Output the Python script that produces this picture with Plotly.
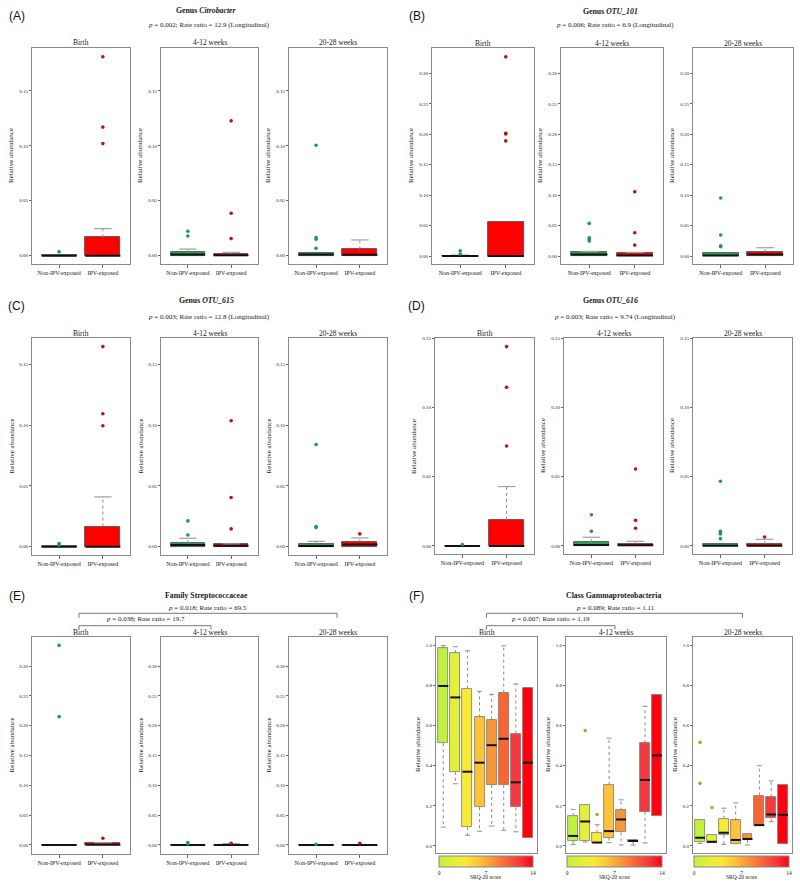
import plotly.graph_objects as go

W, H = 800, 888

# ---------------- data ----------------
groups = ["Non-IPV-exposed", "IPV-exposed"]
timepoints = ["Birth", "4-12 weeks", "20-28 weeks"]
group_colors = ["#25a455", "#ff0000"]
outlier_colors = ["#1c9a55", "#b3141b"]

# Panel A - Genus Citrobacter  [timepoint][group]
A_q1 = [[0, 0], [0, 0], [0, 0]]
A_median = [[0.0, 0.0], [0.001, 0.0003], [0.001, 0.0009]]
A_q3 = [[0.0005, 0.0167], [0.003, 0.0015], [0.0027, 0.0058]]
A_upper = [[0.0005, 0.0246], [0.006, 0.003], [0.0027, 0.0143]]
A_outliers = [[[0.0036], [0.181, 0.117, 0.102]],
              [[0.0222, 0.0179], [0.1227, 0.0386, 0.0155]],
              [[0.1005, 0.0164, 0.0149, 0.0067], []]]

# Panel B - Genus OTU_101
B_q1 = [[0, 0], [0, 0], [0, 0]]
B_median = [[0.0, 0.0], [0.0027, 0.001], [0.001, 0.0027]]
B_q3 = [[0.0008, 0.0564], [0.0066, 0.0044], [0.0044, 0.006]]
B_upper = [[0.0016, 0.0564], [0.0077, 0.006], [0.0044, 0.0137]]
B_outliers = [[[0.0088, 0.0033], [0.327, 0.2015, 0.2004, 0.189]],
              [[0.0536, 0.030, 0.0274, 0.0246], [0.1057, 0.0383, 0.018]],
              [[0.0953, 0.0345, 0.017, 0.0153], []]]

# Panel C - Genus OTU_615
C_q1 = [[0, 0], [0, 0], [0, 0]]
C_median = [[0.0, 0.0], [0.0014, 0.0008], [0.0006, 0.0017]]
C_q3 = [[0.0005, 0.0165], [0.0028, 0.0019], [0.0022, 0.0039]]
C_upper = [[0.0005, 0.041], [0.0069, 0.0022], [0.0044, 0.0072]]
C_outliers = [[[0.0025, 0.0014], [0.1649, 0.1096, 0.0996]],
              [[0.0212, 0.0096], [0.1038, 0.0405, 0.0146]],
              [[0.0842, 0.0165, 0.0157], [0.0105]]]

# Panel D - Genus OTU_616
D_q1 = [[0, 0], [0, 0], [0, 0]]
D_median = [[0.0, 0.0], [0.0007, 0.0005], [0.0002, 0.0002]]
D_q3 = [[0.0003, 0.0188], [0.0026, 0.0017], [0.0012, 0.0012]]
D_upper = [[0.0003, 0.0429], [0.0063, 0.0034], [0.0012, 0.0048]]
D_outliers = [[[0.001], [0.144, 0.1146, 0.0722]],
              [[0.0226, 0.0106], [0.0556, 0.0185, 0.0128]],
              [[0.0467, 0.0106, 0.0096, 0.0087, 0.0053], [0.0065]]]

# Panel E - Family Streptococcaceae
E_q1 = [[0, 0], [0, 0], [0, 0]]
E_median = [[0.0, 0.0006], [0.0, 0.0], [0.0, 0.0]]
E_q3 = [[0.0005, 0.0028], [0.0005, 0.0005], [0.0005, 0.0005]]
E_upper = [[0.0005, 0.0039], [0.0005, 0.0022], [0.0005, 0.0005]]
E_outliers = [[[0.3346, 0.2151], [0.0112]],
              [[0.0039, 0.0017], [0.0028]],
              [[0.0011], [0.0028]]]

# Panel F - Class Gammaproteobacteria, by SRQ-20 score group
F_scores = [0, 2, 4, 6, 8, 10, 12, 14]
F_q1 = [[0.512, 0.369, 0.094, 0.193, 0.304, 0.304, 0.193, 0.041],
        [0.026, 0.023, 0.015, 0.041, 0.068, 0.020, 0.170, 0.149],
        [0.021, 0.017, 0.055, 0.008, 0.030, 0.098, 0.137, 0.008]]
F_median = [[0.797, 0.740, 0.370, 0.415, 0.502, 0.534, 0.317, 0.415],
            [0.050, 0.122, 0.017, 0.074, 0.132, 0.025, 0.329, 0.451],
            [0.041, 0.021, 0.066, 0.030, 0.035, 0.104, 0.157, 0.155]]
F_q3 = [[0.987, 0.962, 0.783, 0.641, 0.628, 0.764, 0.560, 0.788],
        [0.149, 0.203, 0.066, 0.304, 0.177, 0.030, 0.512, 0.752],
        [0.127, 0.053, 0.136, 0.127, 0.058, 0.251, 0.243, 0.302]]
F_lower = [[0.094, 0.310, 0.053, 0.073, 0.099, 0.078, 0.071, 0.041],
           [0.008, 0.020, 0.015, 0.017, 0.005, 0.005, 0.015, 0.149],
           [0.012, 0.017, 0.008, 0.008, 0.005, 0.098, 0.121, 0.008]]
F_upper = [[0.998, 0.993, 0.972, 0.770, 0.755, 0.997, 0.807, 0.788],
           [0.182, 0.203, 0.106, 0.537, 0.230, 0.030, 0.696, 0.752],
           [0.127, 0.053, 0.188, 0.215, 0.058, 0.400, 0.324, 0.302]]
F_outliers = [[[], [], [], [], [], [], [], []],
              [[], [0.575], [0.157], [], [], [], [], []],
              [[0.516, 0.312], [0.192], [], [], [], [], [], []]]
F_colorscale = [[0.0, "#c2f03e"], [0.143, "#e2f03c"], [0.286, "#f8ea36"],
                [0.43, "#fcc23a"], [0.571, "#f8963a"], [0.714, "#f86436"],
                [0.857, "#f43a40"], [1.0, "#ff0010"]]
F_ticks = [0, 7, 14]

# ---------------- styling / geometry ----------------
SERIF = "Liberation Serif"
SANS = "Liberation Sans"
FRAME = "#8a8a8a"


def px(x):
    return x / W


def py(y):
    return 1 - y / H


panels = [
    dict(letter="(A)", title="<b>Genus <i>Citrobacter</i></b>",
         stat="<i>p</i> = 0.002; Rate ratio = 12.9 (Longitudinal)",
         q1=A_q1, med=A_median, q3=A_q3, up=A_upper, out=A_outliers,
         xf=[(32, 130), (161, 258), (289, 387)], yf=(48, 264),
         ty=10.7, sy=25, suby=42.7, cx=207, scx=209, lxy=(16.5, 15.7),
         yr=[-0.0076, 0.189], dt=0.05, fmt=".2f"),
    dict(letter="(B)", title="<b>Genus <i>OTU_101</i></b>",
         stat="<i>p</i> = 0.006; Rate ratio = 6.9 (Longitudinal)",
         q1=B_q1, med=B_median, q3=B_q3, up=B_upper, out=B_outliers,
         xf=[(432, 534), (561, 663), (693, 793)], yf=(48, 264),
         ty=11, sy=25, suby=43.3, cx=610, scx=615, lxy=(416.5, 15.7),
         yr=[-0.013, 0.3415], dt=0.05, fmt=".2f"),
    dict(letter="(C)", title="<b>Genus <i>OTU_615</i></b>",
         stat="<i>p</i> = 0.003; Rate ratio = 12.8 (Longitudinal)",
         q1=C_q1, med=C_median, q3=C_q3, up=C_upper, out=C_outliers,
         xf=[(32, 130), (161, 258), (289, 387)], yf=(338, 555),
         ty=300.7, sy=317.3, suby=333.3, cx=207, scx=209, lxy=(16.5, 305.7),
         yr=[-0.0069, 0.172], dt=0.05, fmt=".2f"),
    dict(letter="(D)", title="<b>Genus <i>OTU_616</i></b>",
         stat="<i>p</i> = 0.003; Rate ratio = 9.74 (Longitudinal)",
         q1=D_q1, med=D_median, q3=D_q3, up=D_upper, out=D_outliers,
         xf=[(435, 534), (564, 663), (693, 792)], yf=(338, 554),
         ty=301, sy=317.3, suby=333.3, cx=610, scx=615, lxy=(416.5, 305.7),
         yr=[-0.0058, 0.1502], dt=0.05, fmt=".2f"),
    dict(letter="(E)", title="<b>Family Streptococcaceae</b>", stat=None,
         q1=E_q1, med=E_median, q3=E_q3, up=E_upper, out=E_outliers,
         xf=[(32, 130), (161, 258), (289, 387)], yf=(637, 854),
         ty=595, sy=None, suby=632.7, cx=207, scx=None, lxy=(16.5, 595.7),
         yr=[-0.0151, 0.3486], dt=0.05, fmt=".2f"),
]

fig = go.Figure()
annotations = []
shapes = []
axes = {}


def axnames(k):
    return ("x" if k == 1 else f"x{k}"), ("y" if k == 1 else f"y{k}")


def add_ann(text, x, y, size, family=SERIF, angle=0, color="#1a1a1a"):
    annotations.append(dict(text=text, x=px(x), y=py(y), xref="paper", yref="paper",
                            xanchor="center", yanchor="middle", showarrow=False,
                            textangle=angle, font=dict(size=size, family=family, color=color)))


def add_boxes(k, xs, q1, med, q3, lo, hi, outl, fill, ocols, bw, line_col, coloraxis=None):
    xr, yr = axnames(k)
    # whiskers (dotted)
    wx, wy, cx_, cy_ = [], [], [], []
    cw = bw * 0.25
    for x, a, b, l, h in zip(xs, q1, q3, lo, hi):
        if h > b:
            wx += [x, x, None]; wy += [b, h, None]
            cx_ += [x - cw, x + cw, None]; cy_ += [h, h, None]
        if l < a:
            wx += [x, x, None]; wy += [a, l, None]
            cx_ += [x - cw, x + cw, None]; cy_ += [l, l, None]
    fig.add_trace(go.Scatter(x=wx, y=wy, mode="lines", line=dict(color="#8c8c8c", width=1, dash="dot"),
                             xaxis=xr, yaxis=yr, hoverinfo="skip", showlegend=False))
    marker = dict(line=dict(color=line_col, width=0.8))
    if coloraxis:
        marker.update(color=fill, coloraxis=coloraxis)
    else:
        marker.update(color=fill)
    fig.add_trace(go.Bar(x=xs, base=q1, y=[b - a for a, b in zip(q1, q3)], width=bw,
                         marker=marker, xaxis=xr, yaxis=yr, hoverinfo="skip", showlegend=False))
    fig.add_trace(go.Scatter(x=cx_, y=cy_, mode="lines", line=dict(color="#a0a0a0", width=1.2),
                             xaxis=xr, yaxis=yr, hoverinfo="skip", showlegend=False))
    mx, my = [], []
    for x, m in zip(xs, med):
        mx += [x - bw / 2, x + bw / 2, None]; my += [m, m, None]
    fig.add_trace(go.Scatter(x=mx, y=my, mode="lines", line=dict(color="#111", width=2),
                             xaxis=xr, yaxis=yr, hoverinfo="skip", showlegend=False))
    ox, oy, oc = [], [], []
    for x, vals, c in zip(xs, outl, ocols):
        for v in vals:
            ox.append(x); oy.append(v); oc.append(c)
    fig.add_trace(go.Scatter(x=ox, y=oy, mode="markers", marker=dict(color=oc, size=3.6),
                             xaxis=xr, yaxis=yr, hoverinfo="skip", showlegend=False))


def setup_axes(k, xf, yf, xrange, yrange, dt, fmt, tickvals=None, ticktext=None):
    x0, x1 = xf
    y0, y1 = yf
    xa = dict(domain=[px(x0), px(x1)], anchor=axnames(k)[1], range=xrange,
              showline=True, mirror=True, linecolor=FRAME, linewidth=1.2,
              showgrid=False, zeroline=False, fixedrange=True)
    if tickvals is not None:
        xa.update(tickmode="array", tickvals=tickvals, ticktext=ticktext, ticks="outside",
                  ticklen=3, tickcolor="#666", tickfont=dict(size=6, family=SERIF, color="#1a1a1a"))
    else:
        xa.update(showticklabels=False, ticks="")
    ya = dict(domain=[py(y1), py(y0)], anchor=axnames(k)[0], range=yrange,
              showline=True, mirror=True, linecolor=FRAME, linewidth=1.2,
              showgrid=False, zeroline=False, fixedrange=True,
              tick0=0, dtick=dt, tickformat=fmt, ticks="outside", ticklen=2, tickcolor="#666",
              tickfont=dict(size=5, family=SERIF, color="#1a1a1a"))
    key = "" if k == 1 else str(k)
    axes["xaxis" + key] = xa
    axes["yaxis" + key] = ya


gx = [1, 2]
for pi, P in enumerate(panels):
    for t in range(3):
        k = pi * 3 + t + 1
        setup_axes(k, P["xf"][t], P["yf"], [0.38, 2.62], P["yr"], P["dt"], P["fmt"], gx, groups)
        add_boxes(k, gx, P["q1"][t], P["med"][t], P["q3"][t], P["q1"][t], P["up"][t],
                  P["out"][t], group_colors, outlier_colors, 0.8, "#444")
        fx0, fx1 = P["xf"][t]
        add_ann(timepoints[t], (fx0 + fx1) / 2, P["suby"], 7.5)
        add_ann("Relative abundance", fx0 - 21, (P["yf"][0] + P["yf"][1]) / 2, 7, angle=-90)
    add_ann(P["title"], P["cx"], P["ty"], 7.8)
    if P["stat"]:
        add_ann(P["stat"], P["scx"], P["sy"], 7)
    add_ann(P["letter"], P["lxy"][0], P["lxy"][1], 12, family=SANS, color="#111")

# Panel F
F_xf = [(436, 537), (566, 666), (693, 792)]
F_yf = (637, 853)
F_x = list(range(1, len(F_scores) + 1))
F_cbar = [(439, 533), (567, 662), (694, 789)]
coloraxes = {}
for t in range(3):
    k = 15 + t + 1
    ca = "coloraxis" if t == 0 else f"coloraxis{t + 1}"
    setup_axes(k, F_xf[t], F_yf, [0.4, 8.75], [-0.035, 1.041], 0.2, ".1f")
    add_boxes(k, F_x, F_q1[t], F_median[t], F_q3[t], F_lower[t], F_upper[t], F_outliers[t],
              F_scores, ["#a2ad2e"] * len(F_scores), 0.83, "#7a7a6a", coloraxis=ca)
    cb0, cb1 = F_cbar[t]
    coloraxes[ca] = dict(
        colorscale=F_colorscale, cmin=0, cmax=14, showscale=True,
        colorbar=dict(orientation="h", x=px((cb0 + cb1) / 2), xanchor="center",
                      y=py(855.7), yanchor="top", len=(cb1 - cb0) / W, lenmode="fraction",
                      thickness=11, thicknessmode="pixels", xpad=0, ypad=0,
                      tickmode="array", tickvals=F_ticks, ticks="",
                      tickfont=dict(size=5.5, family=SERIF, color="#1a1a1a"),
                      outlinecolor="#888", outlinewidth=1))
    fx0, fx1 = F_xf[t]
    add_ann(timepoints[t], (fx0 + fx1) / 2, 632.7, 7.5)
    add_ann("Relative abundance", fx0 - 18, (F_yf[0] + F_yf[1]) / 2, 7, angle=-90)
    add_ann("SRQ-20 score", (cb0 + cb1) / 2, 877, 5.5)

add_ann("<b>Class Gammaproteobacteria</b>", 613, 595.7, 7.8)
add_ann("(F)", 416.5, 595.7, 12, family=SANS, color="#111")

# comparison brackets (E and F)
add_ann("<i>p</i> = 0.018; Rate ratio = 69.5", 207.7, 608.3, 7)
add_ann("<i>p</i> = 0.038; Rate ratio = 19.7", 145, 619.3, 7)
add_ann("<i>p</i> = 0.089; Rate ratio = 1.11", 615, 608.3, 7)
add_ann("<i>p</i> = 0.007; Rate ratio = 1.19", 550, 619.3, 7)


def bracket(xa, xb, ytop, ybot):
    path = (f"M {px(xa)},{py(ybot)} L {px(xa)},{py(ytop)} "
            f"L {px(xb)},{py(ytop)} L {px(xb)},{py(ybot)}")
    shapes.append(dict(type="path", path=path, xref="paper", yref="paper",
                       line=dict(color="#777", width=1)))


bracket(79, 337, 613.3, 617.8)
bracket(79, 211, 625.7, 629.5)
bracket(486.5, 742.5, 613.3, 617.8)
bracket(486.5, 615, 625.7, 629.5)

fig.update_layout(
    width=W, height=H,
    margin=dict(l=0, r=0, t=0, b=0, autoexpand=False),
    paper_bgcolor="white", plot_bgcolor="white",
    font=dict(family=SERIF, color="#1a1a1a"),
    showlegend=False, bargap=0,
    annotations=annotations, shapes=shapes,
    **axes, **coloraxes,
)

fig.write_html("out.html", config={"displayModeBar": False},
               post_script="document.body.style.margin='0';document.body.style.overflow='hidden';")
